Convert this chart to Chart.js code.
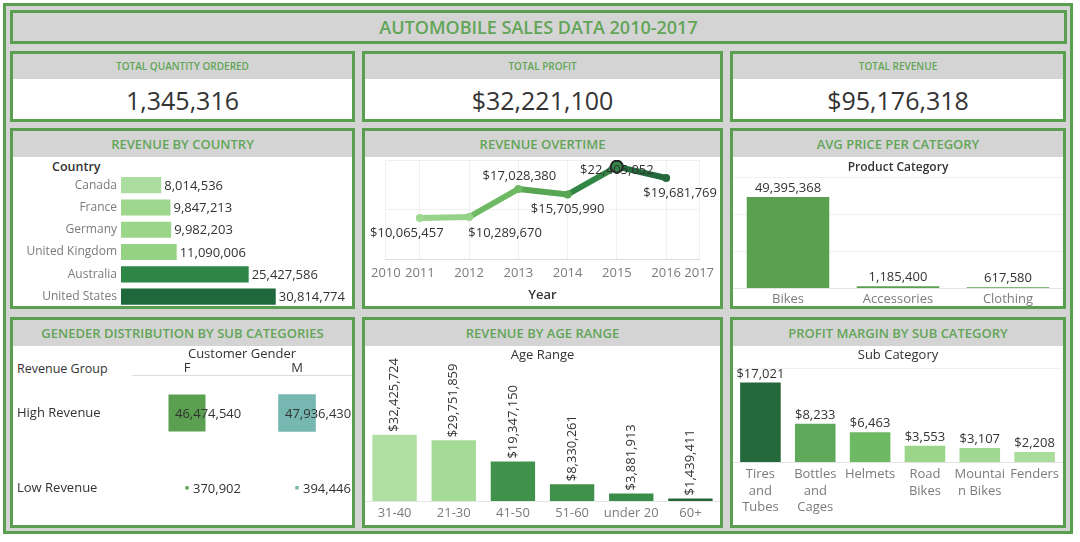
<!DOCTYPE html>
<html>
<head>
<meta charset="utf-8">
<script src="https://cdn.jsdelivr.net/npm/chart.js@4.4.1/dist/chart.umd.min.js"></script>
<style>
body { margin:0; width:1080px; height:542px; background:#fff; font-family:'Open Sans', sans-serif; position:relative; overflow:hidden; }
#frame { position:absolute; left:3px; top:3px; width:1070px; height:531px; border:3px solid #5a9f50; box-sizing:border-box; background:#d4d4d4; }
.panel { position:absolute; border:3px solid #5a9f50; box-sizing:border-box; background:#fff; }
.head { background:#d4d4d4; color:#62a557; text-align:center; font-weight:600; }
.kpi-head { height:25px; line-height:25px; font-size:10px; }
.chart-head { height:26px; line-height:26px; font-size:13px; }
.kpi-val { text-align:center; font-size:25px; color:#333; line-height:43px; }
.box { position:absolute; }
.lbl { position:absolute; font-size:12.5px; color:#333; }
</style>
</head>
<body>
<div id="frame"></div>

<div class="panel head" style="left:10px;top:10px;width:1057px;height:34px;font-size:18px;line-height:28px;">AUTOMOBILE SALES DATA 2010-2017</div>

<div class="panel" style="left:10px;top:51px;width:345px;height:71px;">
  <div class="head kpi-head">TOTAL QUANTITY ORDERED</div>
  <div class="kpi-val" id="kpi-qty"></div>
</div>
<div class="panel" style="left:362px;top:51px;width:361px;height:71px;">
  <div class="head kpi-head">TOTAL PROFIT</div>
  <div class="kpi-val" id="kpi-profit"></div>
</div>
<div class="panel" style="left:730px;top:51px;width:336px;height:71px;">
  <div class="head kpi-head">TOTAL REVENUE</div>
  <div class="kpi-val" id="kpi-revenue"></div>
</div>

<div class="panel" style="left:10px;top:128px;width:345px;height:181px;"><div class="head chart-head">REVENUE BY COUNTRY</div></div>
<div class="panel" style="left:362px;top:128px;width:361px;height:181px;"><div class="head chart-head">REVENUE OVERTIME</div></div>
<div class="panel" style="left:730px;top:128px;width:336px;height:181px;"><div class="head chart-head">AVG PRICE PER CATEGORY</div></div>
<div class="panel" style="left:10px;top:317px;width:345px;height:211px;"><div class="head chart-head">GENEDER DISTRIBUTION BY SUB CATEGORIES</div></div>
<div class="panel" style="left:362px;top:317px;width:361px;height:211px;"><div class="head chart-head">REVENUE BY AGE RANGE</div></div>
<div class="panel" style="left:730px;top:317px;width:336px;height:211px;"><div class="head chart-head">PROFIT MARGIN BY SUB CATEGORY</div></div>

<div class="lbl" style="left:52px;top:158px;font-weight:600;">Country</div>
<div class="lbl" style="left:17px;top:360px;">Revenue Group</div>

<div class="box" style="left:13px;top:157px;width:339px;height:162px;"><canvas id="country-chart"></canvas></div>
<div class="box" style="left:365px;top:157px;width:355px;height:149px;"><canvas id="year-chart"></canvas></div>
<div class="box" style="left:733px;top:157px;width:330px;height:153px;"><canvas id="category-chart"></canvas></div>
<div class="box" style="left:13px;top:346px;width:339px;height:187px;"><canvas id="gender-chart"></canvas></div>
<div class="box" style="left:365px;top:346px;width:355px;height:184px;"><canvas id="age-chart"></canvas></div>
<div class="box" style="left:733px;top:346px;width:330px;height:184px;"><canvas id="subcat-chart"></canvas></div>

<script>
// totals
const totalQuantity = 1345316
const totalProfit = 32221100
const totalRevenue = 95176318

// revenue by country
const countries = ['Canada', 'France', 'Germany', 'United Kingdom', 'Australia', 'United States']
const countryRevenue = [8014536, 9847213, 9982203, 11090006, 25427586, 30814774]

// revenue overtime
const yearTickLabels = ['2010', '2011', '2012', '2013', '2014', '2015', '2016', '2017']
const years = [2011, 2012, 2013, 2014, 2015, 2016]
const yearRevenue = [10065457, 10289670, 17028380, 15705990, 22405052, 19681769]

// avg price per category
const categories = ['Bikes', 'Accessories', 'Clothing']
const categoryPrice = [49395368, 1185400, 617580]

// gender distribution
const genders = ['F', 'M']
const revenueGroups = ['High Revenue', 'Low Revenue']
const femaleRevenue = [46474540, 370902]
const maleRevenue = [47936430, 394446]

// revenue by age range
const ageRanges = ['31-40', '21-30', '41-50', '51-60', 'under 20', '60+']
const ageRevenue = [32425724, 29751859, 19347150, 8330261, 3881913, 1439411]

// profit margin by sub category
const subCategories = [['Tires', 'and', 'Tubes'], ['Bottles', 'and', 'Cages'], ['Helmets'], ['Road', 'Bikes'], ['Mountai', 'n Bikes'], ['Fenders']]
const subCategoryProfit = [17021, 8233, 6463, 3553, 3107, 2208]

// styles
const countryColors = ['rgb(172,221,160)', 'rgb(157,214,140)', 'rgb(155,213,138)', 'rgb(150,210,132)', 'rgb(46,134,70)', 'rgb(30,104,60)']
const yearColors = ['rgb(160,215,145)', 'rgb(150,210,135)', 'rgb(110,185,100)', 'rgb(88,165,84)', 'rgb(50,135,70)', 'rgb(35,105,60)']
const yearLabelDx = [-13, 36, 1, 0, 0, 14]
const yearLabelDy = [15, 16, -13, 15, 4, 15]
const ageColors = ['rgb(175,223,162)', 'rgb(166,218,151)', 'rgb(64,145,76)', 'rgb(64,145,76)', 'rgb(58,140,72)', 'rgb(36,104,58)']
const subCategoryColors = ['rgb(35,105,60)', 'rgb(95,170,90)', 'rgb(110,185,100)', 'rgb(155,213,138)', 'rgb(160,215,145)', 'rgb(170,220,155)']

const GREEN = 'rgb(90,160,80)'
const TEAL = 'rgb(118,183,178)'
const TEXT = '#333'
const GREY = '#7b7b7b'
const FAINT = 'rgba(0,0,0,0.06)'

Chart.defaults.font.family = "'Open Sans', sans-serif"
Chart.defaults.font.size = 13
Chart.defaults.animation = false
Chart.defaults.responsive = true
Chart.defaults.maintainAspectRatio = false
Chart.defaults.layout.autoPadding = false
Chart.defaults.plugins.legend.display = false
Chart.defaults.plugins.tooltip.enabled = false

const fmt = v => v.toLocaleString('en-US')

document.getElementById('kpi-qty').textContent = fmt(totalQuantity)
document.getElementById('kpi-profit').textContent = '$' + fmt(totalProfit)
document.getElementById('kpi-revenue').textContent = '$' + fmt(totalRevenue)

// draws a value next to every bar / point
function valueLabels(draw)
{
    return {
        id: 'valueLabels',
        afterDatasetsDraw(chart) {
            const ctx = chart.ctx
            ctx.save()
            ctx.fillStyle = TEXT
            ctx.font = "13px 'Open Sans', sans-serif"
            chart.data.datasets.forEach((ds, di) => {
                chart.getDatasetMeta(di).data.forEach((el, i) => draw(ctx, el, ds.data[i], i, di))
            })
            ctx.restore()
        }
    }
}

new Chart('country-chart', {
    type: 'bar',
    data: {
        labels: countries,
        datasets: [{ data: countryRevenue, backgroundColor: countryColors, barPercentage: 0.72, categoryPercentage: 1 }]
    },
    options: {
        indexAxis: 'y',
        layout: { padding: { top: 17 } },
        scales: {
            x: { display: false, min: 0, max: 46000000 },
            y: {
                grid: { display: false, drawTicks: false },
                border: { display: false },
                ticks: { color: GREY, padding: 4, font: { size: 12 } },
                afterFit(s) { s.width = 108 }
            }
        }
    },
    plugins: [valueLabels((ctx, el, v) => {
        ctx.textAlign = 'left'
        ctx.textBaseline = 'middle'
        ctx.fillText(fmt(v), el.x + 3, el.y + 1)
    })]
})

new Chart('year-chart', {
    type: 'line',
    data: {
        datasets: [{
            data: years.map((y, i) => ({ x: y, y: yearRevenue[i] })),
            borderWidth: 6,
            segment: { borderColor: c => yearColors[c.p1DataIndex] },
            pointBackgroundColor: yearColors,
            pointBorderColor: yearColors.map((c, i) => i === 4 ? '#222' : c),
            pointBorderWidth: yearColors.map((c, i) => i === 4 ? 2 : 0),
            pointRadius: yearColors.map((c, i) => i === 4 ? 6 : 4)
        }]
    },
    options: {
        layout: { padding: { top: 3, left: 16, right: 16 } },
        scales: {
            x: {
                type: 'linear',
                min: 2010.31,
                max: 2016.67,
                afterBuildTicks(s) {
                    s.ticks = [2010.31, 2011, 2012, 2013, 2014, 2015, 2016, 2016.67].map(v => ({ value: v }))
                },
                grid: { color: FAINT, drawTicks: false },
                border: { color: '#ddd' },
                ticks: {
                    color: GREY, padding: 6, autoSkip: false, maxRotation: 0,
                    callback: (v, i) => yearTickLabels[i]
                },
                title: { display: true, text: 'Year', color: TEXT, font: { weight: '600' }, padding: { top: 0, bottom: 3 } }
            },
            y: {
                min: 0, max: 24000000,
                ticks: { display: false, stepSize: 10000000 },
                grid: { color: FAINT, drawTicks: false },
                border: { display: false }
            }
        }
    },
    plugins: [valueLabels((ctx, el, v, i) => {
        ctx.textAlign = 'center'
        ctx.textBaseline = 'middle'
        ctx.fillText('$' + fmt(v.y), el.x + yearLabelDx[i], el.y + yearLabelDy[i])
    })]
})

new Chart('category-chart', {
    type: 'bar',
    data: {
        labels: categories,
        datasets: [{ data: categoryPrice, backgroundColor: GREEN, barPercentage: 0.75, categoryPercentage: 1 }]
    },
    options: {
        plugins: {
            title: { display: true, text: 'Product Category', color: TEXT, font: { size: 12, weight: '600' }, padding: { top: 3, bottom: 3 } }
        },
        scales: {
            x: { grid: { display: false, drawTicks: false }, border: { color: '#e4e4e4' }, ticks: { color: GREY, padding: 3 } },
            y: {
                min: 0, max: 60000000,
                ticks: { display: false, stepSize: 20000000 },
                grid: { color: FAINT, drawTicks: false },
                border: { display: false }
            }
        }
    },
    plugins: [valueLabels((ctx, el, v) => {
        ctx.textAlign = 'center'
        ctx.textBaseline = 'bottom'
        ctx.fillText(fmt(v), el.x, el.y - 2)
    })]
})

const SIZE_K = 0.00384
const genderSets = [femaleRevenue, maleRevenue].map((vals, gi) => ({
    data: revenueGroups.map((g, i) => ({ x: genders[gi], y: g, v: vals[i] })),
    pointStyle: 'rect',
    pointRadius: c => SIZE_K * Math.sqrt(c.raw.v),
    pointBackgroundColor: gi === 0 ? GREEN : TEAL,
    pointBorderWidth: 0
}))

new Chart('gender-chart', {
    type: 'scatter',
    data: { datasets: genderSets },
    options: {
        layout: { padding: { top: 1, left: 4 } },
        scales: {
            x: {
                type: 'category', labels: genders, position: 'top', offset: true,
                grid: { display: false, drawTicks: false },
                border: { color: '#ddd' },
                ticks: { color: TEXT, padding: 0, font: { lineHeight: 1.1 } },
                title: { display: true, text: 'Customer Gender', color: TEXT, font: { lineHeight: 1.1 }, padding: 0 }
            },
            y: {
                type: 'category', labels: revenueGroups, offset: true,
                grid: { display: false, drawTicks: false },
                border: { display: false },
                ticks: { color: TEXT, crossAlign: 'far', padding: 0 },
                afterFit(s) { s.width = 115 }
            }
        }
    },
    plugins: [valueLabels((ctx, el, p) => {
        const half = SIZE_K * Math.sqrt(p.v) * Math.SQRT1_2
        ctx.textAlign = 'left'
        ctx.textBaseline = 'middle'
        ctx.fillText(fmt(p.v), half > 10 ? el.x - 12 : el.x + 6, el.y + 1)
    })]
})

new Chart('age-chart', {
    type: 'bar',
    data: {
        labels: ageRanges,
        datasets: [{ data: ageRevenue, backgroundColor: ageColors, barPercentage: 0.75, categoryPercentage: 1 }]
    },
    options: {
        layout: { padding: { bottom: 5 } },
        plugins: {
            title: { display: true, text: 'Age Range', color: TEXT, font: { size: 13, weight: 'normal' }, padding: { top: 1, bottom: 3 } }
        },
        scales: {
            x: {
                grid: { display: false, drawTicks: false }, border: { color: '#e4e4e4' },
                ticks: { color: GREY, padding: 4, autoSkip: false, maxRotation: 0 }
            },
            y: {
                min: 0, max: 66000000,
                afterBuildTicks(s) { s.ticks = s.ticks.filter(t => t.value % 20000000 === 0) },
                ticks: { display: false, stepSize: 20000000 },
                grid: { color: FAINT, drawTicks: false },
                border: { display: false }
            }
        }
    },
    plugins: [valueLabels((ctx, el, v) => {
        ctx.save()
        ctx.translate(el.x, el.y - 3)
        ctx.rotate(-Math.PI / 2)
        ctx.textAlign = 'left'
        ctx.textBaseline = 'middle'
        ctx.fillText('$' + fmt(v), 0, 0)
        ctx.restore()
    })]
})

new Chart('subcat-chart', {
    type: 'bar',
    data: {
        labels: subCategories,
        datasets: [{ data: subCategoryProfit, backgroundColor: subCategoryColors, barPercentage: 0.74, categoryPercentage: 1 }]
    },
    options: {
        layout: { padding: { bottom: 10 } },
        plugins: {
            title: { display: true, text: 'Sub Category', color: TEXT, font: { size: 13, weight: 'normal' }, padding: { top: 1, bottom: 6 } }
        },
        scales: {
            x: {
                grid: { display: false, drawTicks: false }, border: { color: '#e4e4e4' },
                ticks: { color: GREY, padding: 4, autoSkip: false, maxRotation: 0, font: { lineHeight: 1.27 } }
            },
            y: {
                min: 0, max: 20000,
                ticks: { display: false, stepSize: 20000 },
                grid: { color: FAINT, drawTicks: false },
                border: { display: false }
            }
        }
    },
    plugins: [valueLabels((ctx, el, v) => {
        ctx.textAlign = 'center'
        ctx.textBaseline = 'bottom'
        ctx.fillText('$' + fmt(v), el.x, el.y - 2)
    })]
})
</script>
</body>
</html>
